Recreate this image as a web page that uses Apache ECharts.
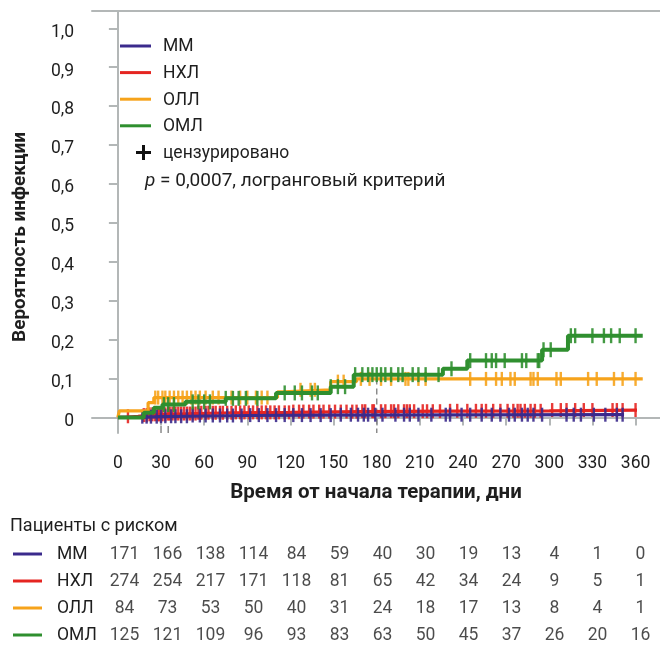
<!DOCTYPE html>
<html><head><meta charset="utf-8">
<script src="https://cdn.jsdelivr.net/npm/echarts@6/dist/echarts.min.js"></script>
<style>html,body{margin:0;padding:0;background:#fff}#c{width:660px;height:651px}</style>
</head><body><div id="c"></div>
<script>
// ---------- data ----------
const groups = ['ММ', 'НХЛ', 'ОЛЛ', 'ОМЛ'];
const groupColors = ['#3b2a8c', '#e52521', '#f6a31b', '#2f8f2f'];
const xTicks = [0, 30, 60, 90, 120, 150, 180, 210, 240, 270, 300, 330, 360];
const yTicks = [0, 0.1, 0.2, 0.3, 0.4, 0.5, 0.6, 0.7, 0.8, 0.9, 1.0];

// step curves (cumulative incidence)
const mmTimes  = [0, 15, 30, 50, 90, 150, 352];
const mmProb   = [0, 0.002, 0.003, 0.005, 0.006, 0.007, 0.007];
const nhlTimes = [0, 5, 14, 22, 35, 55, 80, 120, 170, 230, 300, 361];
const nhlProb  = [0, 0.003, 0.006, 0.008, 0.010, 0.012, 0.013, 0.015, 0.016, 0.017, 0.019, 0.019];
const ollTimes = [0, 1, 21, 25, 111, 115, 148, 166, 365];
const ollProb  = [0, 0.017, 0.038, 0.051, 0.066, 0.071, 0.092, 0.099, 0.099];
const omlTimes = [0, 18, 25, 31, 47, 75, 110, 148, 164, 226, 243, 295, 313, 365];
const omlProb  = [0, 0.012, 0.025, 0.033, 0.040, 0.049, 0.063, 0.079, 0.110, 0.125, 0.146, 0.174, 0.210, 0.210];

// censoring times
const mmCensor = [17, 20, 23, 27, 30, 33, 37, 40, 44, 48, 52, 57, 61, 66, 71, 76, 80, 86, 92, 98, 104, 110, 116, 122, 128, 134, 141, 148, 155, 162, 167,
  171, 174, 179, 184, 193, 199, 203, 209, 218, 228, 231, 239, 245, 253, 260, 266, 272, 276, 281, 285, 289, 295, 312, 317, 322, 331, 339, 347, 351];
const nhlCensor = [7, 18, 20, 22, 24, 26, 28, 29, 31, 33, 35, 36, 38, 40, 42, 44, 46, 48, 50, 52, 54, 56, 58, 61, 63, 66, 68, 71, 73, 76, 79, 82, 85, 88, 91, 94, 97, 100,
  103, 106, 109, 112, 116, 119, 122, 126, 129, 133, 136, 140, 143, 147, 151, 155, 159, 163, 166,
  170, 172, 177, 178, 183, 186, 190, 192, 195, 199, 201, 203, 206, 212, 215, 219, 224, 231, 236, 243, 249, 253, 256, 261, 266, 271, 275, 278, 280, 283, 287, 290, 294,
  302, 308, 312, 318, 324, 330, 344, 347, 351, 360];
const ollCensor = [26, 28, 31, 33, 36, 39, 42, 45, 48, 51, 54, 57, 61, 66, 70, 79, 85, 90, 96, 100, 104, 127, 134, 137, 153, 157, 169, 175, 183, 190,
  200, 202, 209, 214, 245, 256, 263, 267, 273, 276, 287, 289, 292, 305, 308, 327, 333, 345, 351, 360];
const omlCensor = [32, 35, 39, 52, 56, 60, 64, 75, 80, 84, 89, 97, 116, 123, 128, 135, 139, 148, 153, 158, 165, 170, 174, 177, 180, 183, 186, 190, 195, 198,
  205, 209, 214, 223, 232, 245, 256, 260, 263, 269, 281, 284, 292, 293, 296, 301, 315, 318, 330, 338, 343, 349, 360];

// numbers at risk
const riskTimes = [0, 30, 60, 90, 120, 150, 180, 210, 240, 270, 300, 330, 360];
const riskMM  = [171, 166, 138, 114, 84, 59, 40, 30, 19, 13, 4, 1, 0];
const riskNHL = [274, 254, 217, 171, 118, 81, 65, 42, 34, 24, 9, 5, 1];
const riskOLL = [84, 73, 53, 50, 40, 31, 24, 18, 17, 13, 8, 4, 1];
const riskOML = [125, 121, 109, 96, 93, 83, 63, 50, 45, 37, 26, 20, 16];

// ---------- build ----------
const FONT = 'Roboto';
const TXT = '#1e1e1e';
const AX = '#b3b7b7';
function stepAt(times, probs, t) {
  let v = probs[0];
  for (let i = 0; i < times.length; i++) { if (times[i] <= t) v = probs[i]; }
  return v;
}
const curves = [
  {t: mmTimes, p: mmProb, c: mmCensor, w: 3.2},
  {t: nhlTimes, p: nhlProb, c: nhlCensor, w: 3.2},
  {t: ollTimes, p: ollProb, c: ollCensor, w: 3.2},
  {t: omlTimes, p: omlProb, c: omlCensor, w: 4}
];
const drawOrder = [1, 0, 2, 3];
const series = [];
// reference dashed lines
series.push({type: 'line', xAxisIndex: 0, yAxisIndex: 0, data: [[180, 0.1], [180, -0.04]], symbol: 'none', silent: true, z: 1,
  lineStyle: {color: '#8a8a8a', width: 1.5, type: [6, 4]}});
series.push({type: 'line', xAxisIndex: 0, yAxisIndex: 0, data: [[30, -0.022], [30, -0.04]], symbol: 'none', silent: true, z: 1,
  lineStyle: {color: '#8a8a8a', width: 1.5}});
series.push({type: 'line', xAxisIndex: 0, yAxisIndex: 0, data: [[35, -0.022], [35, -0.04]], symbol: 'none', silent: true, z: 1,
  lineStyle: {color: '#8a8a8a', width: 1.5}});
drawOrder.forEach((gi, k) => {
  const cv = curves[gi];
  series.push({
    type: 'line', name: groups[gi], step: 'end', symbol: 'none', silent: true, z: 2 + k * 2,
    xAxisIndex: 0, yAxisIndex: 0,
    data: cv.t.map((t, i) => [t, cv.p[i]]),
    lineStyle: {color: groupColors[gi], width: cv.w}
  });
  series.push({
    type: 'scatter', silent: true, z: 3 + k * 2, xAxisIndex: 0, yAxisIndex: 0,
    symbol: 'rect', symbolSize: [2.4, gi === 3 ? 15 : 14],
    itemStyle: {color: groupColors[gi], opacity: 0.9},
    data: cv.c.map(t => [t, stepAt(cv.t, cv.p, t)])
  });
});
// numbers at risk table
const riskRows = [riskMM, riskNHL, riskOLL, riskOML];
riskRows.forEach((row, r) => {
  series.push({
    type: 'scatter', xAxisIndex: 2, yAxisIndex: 1, silent: true, symbolSize: 1,
    itemStyle: {color: 'rgba(0,0,0,0)'},
    data: riskTimes.map((t, i) => [t, r + 1, row[i]]),
    label: {show: true, position: 'inside', formatter: p => String(p.value[2]),
      fontFamily: FONT, fontSize: 17.5, color: TXT}
  });
});

const graphic = [];
// legend
groups.forEach((g, i) => {
  const y = 46 + i * 26.6;
  graphic.push({type: 'line', shape: {x1: 120, y1: y, x2: 151, y2: y}, style: {stroke: groupColors[i], lineWidth: 3}});
  graphic.push({type: 'text', x: 163, y: y + 1, style: {text: g, font: '17.5px ' + FONT, fill: TXT, textVerticalAlign: 'middle'}});
});
graphic.push({type: 'line', shape: {x1: 136, y1: 152.5, x2: 151, y2: 152.5}, style: {stroke: '#111', lineWidth: 3}});
graphic.push({type: 'line', shape: {x1: 143.5, y1: 145, x2: 143.5, y2: 160}, style: {stroke: '#111', lineWidth: 3}});
graphic.push({type: 'text', x: 163, y: 154, style: {text: 'цензурировано', font: '17.5px ' + FONT, fill: TXT, textVerticalAlign: 'middle'}});
graphic.push({type: 'text', x: 145, y: 181, style: {
  text: '{i|p} = 0,0007, логранговый критерий', font: '19px ' + FONT, fill: TXT, textVerticalAlign: 'middle',
  rich: {i: {fontStyle: 'italic', fontFamily: FONT, fontSize: 19, fill: TXT}}}});
// y axis title
graphic.push({type: 'text', x: 20, y: 237, rotation: Math.PI / 2, style: {
  text: 'Вероятность инфекции', font: 'bold 19px ' + FONT, fill: TXT, textAlign: 'center', textVerticalAlign: 'middle'}});
// table header and row labels
graphic.push({type: 'text', x: 10, y: 526, style: {text: 'Пациенты с риском', font: '18px ' + FONT, fill: TXT, textVerticalAlign: 'middle'}});
groups.forEach((g, i) => {
  const y = 554 + i * 27;
  graphic.push({type: 'line', shape: {x1: 13, y1: y, x2: 42, y2: y}, style: {stroke: groupColors[i], lineWidth: 3}});
  graphic.push({type: 'text', x: 57, y: y + 1, style: {text: g, font: '17.5px ' + FONT, fill: TXT, textVerticalAlign: 'middle'}});
});

const chart = echarts.init(document.getElementById('c'), null, {renderer: 'canvas'});
chart.setOption({
  animation: false,
  backgroundColor: '#fff',
  textStyle: {fontFamily: FONT},
  grid: [
    {left: 92, top: 11, width: 568, height: 422},
    {left: 95.8, top: 541.5, width: 544.7, height: 108}
  ],
  xAxis: [
    {type: 'value', gridIndex: 0, min: -18, max: 377, position: 'bottom',
      axisLine: {show: true, lineStyle: {color: AX, width: 2}},
      axisTick: {show: true, length: 8, lineStyle: {color: AX, width: 2}, customValues: xTicks},
      axisLabel: {show: true, customValues: xTicks, margin: 22, fontSize: 17.5, color: TXT, fontFamily: FONT},
      splitLine: {show: false},
      name: 'Время от начала терапии, дни', nameLocation: 'middle', nameGap: 49,
      nameTextStyle: {fontWeight: 'bold', fontSize: 20.5, color: TXT, fontFamily: FONT}},
    {type: 'value', gridIndex: 0, min: -18, max: 377, position: 'top',
      axisLine: {show: true, onZero: false, lineStyle: {color: AX, width: 2}},
      axisTick: {show: false}, axisLabel: {show: false}, splitLine: {show: false}},
    {type: 'value', gridIndex: 1, min: -20, max: 360, show: false}
  ],
  yAxis: [
    {type: 'value', gridIndex: 0, min: -0.04, max: 1.0444,
      axisLine: {show: true, lineStyle: {color: AX, width: 2}},
      axisTick: {show: true, length: 9, lineStyle: {color: AX, width: 2}, customValues: yTicks},
      axisLabel: {show: true, customValues: yTicks, margin: 18, fontSize: 17.5, color: TXT, fontFamily: FONT,
        verticalAlign: 'top', lineHeight: 8,
        formatter: v => (Math.abs(v) < 1e-9 ? '0' : v.toFixed(1).replace('.', ','))},
      splitLine: {show: false}},
    {type: 'value', gridIndex: 1, min: 0.5, max: 4.5, inverse: true, show: false}
  ],
  series: series,
  graphic: graphic
});
</script>
</body></html>
